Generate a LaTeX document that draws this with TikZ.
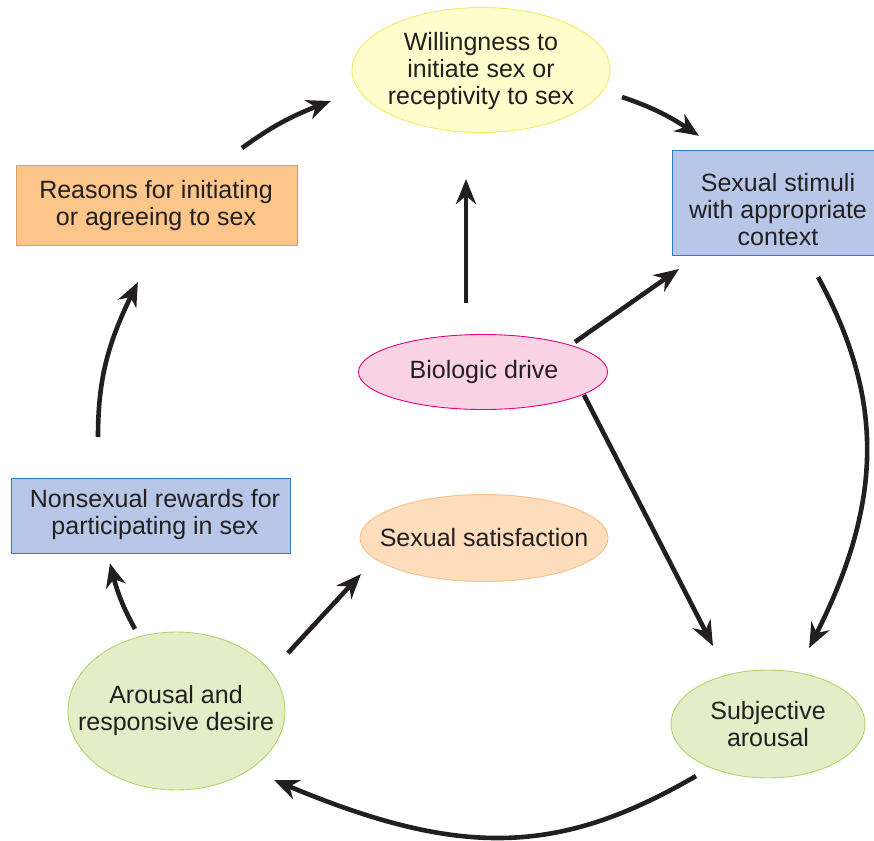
\documentclass[tikz,border=0pt]{standalone}
\usepackage{fontspec}
\setmainfont{Liberation Sans}
\usetikzlibrary{shapes.geometric,arrows.meta,bending}
\definecolor{ink}{HTML}{231F20}
\definecolor{yelfill}{HTML}{FFFDCB}
\definecolor{yeldraw}{HTML}{F3E96A}
\definecolor{orafill}{HTML}{FCC589}
\definecolor{oradraw}{HTML}{DE9C5C}
\definecolor{bluefill}{HTML}{B8C7E7}
\definecolor{bluedraw}{HTML}{2E7DC0}
\definecolor{pinkfill}{HTML}{F9D3E4}
\definecolor{pinkdraw}{HTML}{E4007F}
\definecolor{peachfill}{HTML}{FDDDBB}
\definecolor{peachdraw}{HTML}{F7C08A}
\definecolor{greenfill}{HTML}{E3EEC9}
\definecolor{greendraw}{HTML}{B3D36B}
\tikzset{
  lbl/.style={font=\fontsize{25}{27}\selectfont, text=ink, align=center, inner sep=0pt},
  ell/.style={ellipse, inner sep=0pt, line width=0.9pt},
  boxnode/.style={rectangle, inner sep=0pt, line width=0.9pt},
  arr/.style={draw=ink, line width=4.6pt, -{Stealth[length=25pt,width=20pt,inset=8pt,bend]}},
}
\begin{document}
\begin{tikzpicture}[x=1pt,y=-1pt]
\useasboundingbox (0,0) rectangle (874,840);
\clip (0,0) rectangle (874,840);
% nodes
\node[ell, fill=yelfill, draw=yeldraw, minimum width=258, minimum height=125] (will) at (481,70) {};
\node[lbl] (willt) at (481,71) {Willingness to\\initiate sex or\\receptivity to sex};
\node[boxnode, fill=orafill, draw=oradraw, minimum width=281, minimum height=80] (reas) at (156.5,205) {};
\node[lbl] (reast) at (156,206) {Reasons for initiating\\or agreeing to sex};
\node[boxnode, fill=bluefill, draw=bluedraw, minimum width=214, minimum height=105] (stim) at (779,202.5) {};
\node[lbl] (stimt) at (778,210) {Sexual stimuli\\with appropriate\\context};
\node[ell, fill=pinkfill, draw=pinkdraw, minimum width=249, minimum height=75] (bio) at (483,372) {};
\node[lbl] (biot) at (484,372) {Biologic drive};
\node[boxnode, fill=bluefill, draw=bluedraw, minimum width=279, minimum height=75] (nons) at (150.5,515.5) {};
\node[lbl] (nonst) at (155,515) {Nonsexual rewards for\\participating in sex};
\node[ell, fill=peachfill, draw=peachdraw, minimum width=248, minimum height=87] (sat) at (484,538) {};
\node[lbl] (satt) at (484,538) {Sexual satisfaction};
\node[ell, fill=greenfill, draw=greendraw, minimum width=217, minimum height=158] (arou) at (176.5,711) {};
\node[lbl] (arout) at (176,711) {Arousal and\\responsive desire};
\node[ell, fill=greenfill, draw=greendraw, minimum width=194, minimum height=108] (subj) at (768,724) {};
\node[lbl] (subjt) at (768,724.5) {Subjective\\arousal};
% arrow end points
\coordinate (a1s) at (242,148);  \coordinate (a1e) at (331,101);
\coordinate (a2s) at (622,97);   \coordinate (a2e) at (699,136);
\coordinate (a3s) at (466,303);  \coordinate (a3e) at (466,179);
\coordinate (a4s) at (575,342);  \coordinate (a4e) at (679,269);
\coordinate (a5s) at (584,395);  \coordinate (a5e) at (713,646);
\coordinate (a6s) at (818,277);  \coordinate (a6e) at (809,648);
\coordinate (a7s) at (696,776);  \coordinate (a7e) at (274,780);
\coordinate (a8s) at (288,653);  \coordinate (a8e) at (361,574);
\coordinate (a9s) at (135,629);  \coordinate (a9e) at (110,563);
\coordinate (a10s) at (98,437);  \coordinate (a10e) at (138,282);
% connectors
\draw[arr] (a1s) to[bend left=8] (a1e);
\draw[arr] (a2s) to[bend left=8] (a2e);
\draw[arr] (a3s) -- (a3e);
\draw[arr] (a4s) -- (a4e);
\draw[arr] (a5s) -- (a5e);
\draw[arr] (a6s) .. controls (885,400) and (885,505) .. (a6e);
\draw[arr] (a7s) .. controls (555,858) and (455,858) .. (a7e);
\draw[arr] (a8s) -- (a8e);
\draw[arr] (a9s) to[bend left=8] (a9e);
\draw[arr] (a10s) to[out=90,in=-117] (a10e);
\end{tikzpicture}
\end{document}
